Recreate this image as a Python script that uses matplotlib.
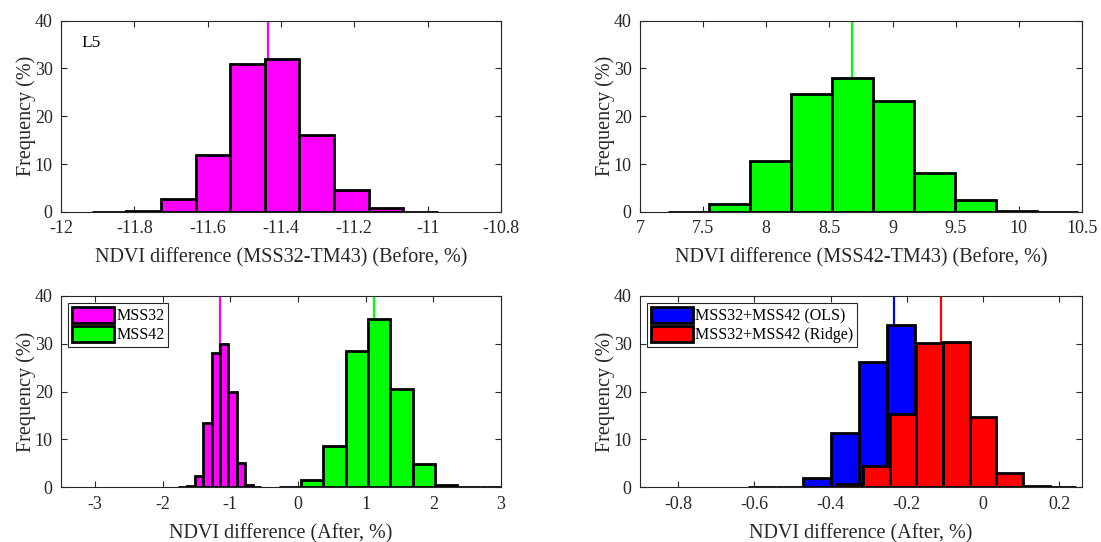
import matplotlib
matplotlib.use("Agg")
import matplotlib.pyplot as plt

plt.rcParams['font.family'] = 'Liberation Serif'
plt.rcParams['axes.unicode_minus'] = False

# Histogram data (bin edges and frequencies in %)
l5_32_edges = [-11.916, -11.822, -11.727, -11.633, -11.538, -11.444, -11.350, -11.255, -11.161, -11.066, -10.972]
l5_32_freq = [0.05, 0.2, 2.65, 12.0, 30.9, 32.0, 16.0, 4.6, 0.8, 0.05]
l5_32_mean = -11.436

l5_42_edges = [7.222, 7.547, 7.872, 8.196, 8.521, 8.846, 9.171, 9.496, 9.820, 10.145, 10.470]
l5_42_freq = [0.05, 1.6, 10.7, 24.6, 28.1, 23.3, 8.1, 2.4, 0.3, 0.05]
l5_42_mean = 8.68

after32_edges = [-1.768, -1.645, -1.522, -1.399, -1.276, -1.153, -1.030, -0.907, -0.784, -0.661, -0.538]
after32_freq = [0.05, 0.3, 2.4, 13.5, 28.0, 30.0, 19.9, 5.0, 0.5, 0.05]
after32_mean = -1.158

after42_edges = [-0.285, 0.045, 0.375, 0.705, 1.035, 1.365, 1.695, 2.025, 2.355, 2.685, 3.015]
after42_freq = [0.05, 1.45, 8.6, 28.4, 35.1, 20.6, 4.9, 0.5, 0.1, 0.05]
after42_mean = 1.12

ols_edges = [-0.617, -0.544, -0.471, -0.398, -0.325, -0.252, -0.179, -0.106, -0.033, 0.040, 0.112]
ols_freq = [0.05, 0.15, 2.0, 11.3, 26.3, 34.0, 18.0, 6.0, 1.0, 0.1]
ols_mean = -0.233

ridge_edges = [-0.455, -0.385, -0.315, -0.245, -0.175, -0.105, -0.035, 0.035, 0.105, 0.175, 0.245]
ridge_freq = [0.05, 0.7, 4.4, 15.3, 30.2, 30.4, 14.7, 2.9, 0.3, 0.05]
ridge_mean = -0.109

magenta = '#ff00ff'
green = '#00ff00'
blue = '#0000ff'
red = '#ff0000'
dark = '#262626'


def hist(ax, edges, freq, color, label=None):
    lefts = edges[:-1]
    widths = [b - a for a, b in zip(edges[:-1], edges[1:])]
    ax.bar(lefts, freq, width=widths, align='edge', color=color,
           edgecolor='black', linewidth=2, label=label, zorder=3)


def style(ax, xlim, xticks, xlabel):
    ax.set_xlim(xlim)
    ax.set_ylim(0, 40)
    ax.set_xticks(xticks)
    ax.set_yticks([0, 10, 20, 30, 40])
    ax.tick_params(direction='in', top=True, right=True, length=4, width=0.8,
                   colors=dark, labelsize=13, pad=6)
    for s in ax.spines.values():
        s.set_color(dark)
        s.set_linewidth(0.8)
        s.set_zorder(5)
    ax.set_xlabel(xlabel, fontsize=14.5, color=dark, labelpad=8)
    ax.set_ylabel('Frequency (%)', fontsize=14.5, color=dark, labelpad=-1)


fig = plt.figure(figsize=(11.01, 5.42), dpi=100)
ax1 = fig.add_axes([0.0554, 0.6089, 0.3996, 0.3530])
ax2 = fig.add_axes([0.5813, 0.6089, 0.4014, 0.3530])
ax3 = fig.add_axes([0.0554, 0.1009, 0.3996, 0.3530])
ax4 = fig.add_axes([0.5813, 0.1009, 0.4014, 0.3530])

# Top left
hist(ax1, l5_32_edges, l5_32_freq, magenta)
ax1.axvline(l5_32_mean, color=magenta, linewidth=1.6, zorder=1)
style(ax1, (-12, -10.8), [-12, -11.8, -11.6, -11.4, -11.2, -11, -10.8],
      'NDVI difference (MSS32-TM43) (Before, %)')
ax1.set_xticklabels(['-12', '-11.8', '-11.6', '-11.4', '-11.2', '-11', '-10.8'])
ax1.text(-11.945, 35.3, 'L5', fontsize=12.5, color='black', ha='left', va='center')

# Top right
hist(ax2, l5_42_edges, l5_42_freq, green)
ax2.axvline(l5_42_mean, color=green, linewidth=1.6, zorder=1)
style(ax2, (7, 10.5), [7, 7.5, 8, 8.5, 9, 9.5, 10, 10.5],
      'NDVI difference (MSS42-TM43) (Before, %)')
ax2.set_xticklabels(['7', '7.5', '8', '8.5', '9', '9.5', '10', '10.5'])

# Bottom left
hist(ax3, after32_edges, after32_freq, magenta, 'MSS32')
hist(ax3, after42_edges, after42_freq, green, 'MSS42')
ax3.axvline(after32_mean, color=magenta, linewidth=1.6, zorder=1)
ax3.axvline(after42_mean, color=green, linewidth=1.6, zorder=1)
style(ax3, (-3.5, 3), [-3, -2, -1, 0, 1, 2, 3], 'NDVI difference (After, %)')

# Bottom right
hist(ax4, ols_edges, ols_freq, blue, 'MSS32+MSS42 (OLS)')
hist(ax4, ridge_edges, ridge_freq, red, 'MSS32+MSS42 (Ridge)')
ax4.axvline(ols_mean, color=blue, linewidth=1.6, zorder=1)
ax4.axvline(ridge_mean, color=red, linewidth=1.6, zorder=1)
style(ax4, (-0.9, 0.26), [-0.8, -0.6, -0.4, -0.2, 0, 0.2], 'NDVI difference (After, %)')
ax4.set_xticklabels(['-0.8', '-0.6', '-0.4', '-0.2', '0', '0.2'])

for ax in (ax3, ax4):
    leg = ax.legend(loc='upper left', fontsize=11.5, fancybox=False, edgecolor=dark,
                    framealpha=1, handlelength=2.6, handleheight=1.1,
                    labelspacing=0.12, handletextpad=0.15, borderpad=0.25,
                    borderaxespad=0.45)
    leg.get_frame().set_linewidth(0.8)
    leg.set_zorder(6)

fig.savefig('out.png', dpi=100)
